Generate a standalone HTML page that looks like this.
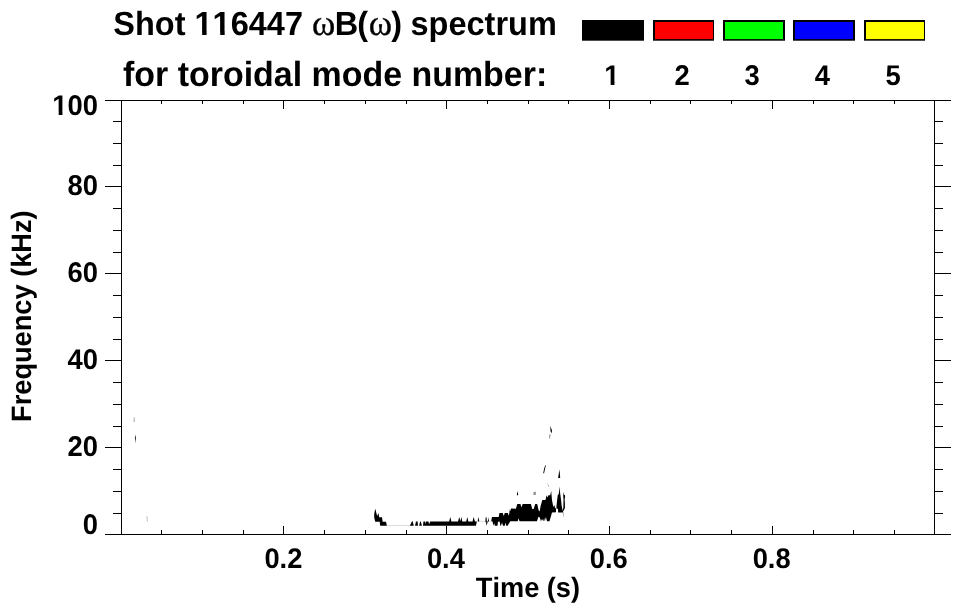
<!DOCTYPE html>
<html lang="en">
<head>
<meta charset="utf-8">
<title>Shot 116447 spectrum</title>
<style>
html,body{margin:0;padding:0;background:#fff;}
body{width:963px;height:615px;overflow:hidden;}
svg{display:block;}
text{font-family:"Liberation Sans",sans-serif;font-weight:bold;fill:#000;text-rendering:geometricPrecision;font-kerning:none;white-space:pre;}
.sym{font-family:"Liberation Serif",serif;font-weight:normal;stroke:#000;stroke-width:0.35;}
.ax{stroke:#000;stroke-width:1;shape-rendering:crispEdges;fill:none;}
</style>
</head>
<body>
<svg width="963" height="615" viewBox="0 0 963 615">
<rect x="0" y="0" width="963" height="615" fill="#fff"/>
<defs><clipPath id="nofoot"><path clip-rule="evenodd" d="M0 0H963V615H0Z M193.90 31H202.03V32H202.14V36.7H193.90Z M206.87 31H213.08V36.7H206.59V32H206.87Z M211.98 31H220.06V32H220.21V36.7H211.98Z M224.90 31H231.15V36.7H224.67V32H224.90Z M51.73 111H58.19V112H58.68V116.3H51.73Z M62.88 111H67.90V116.3H62.43V112H62.88Z M603.73 82H610.60V83H610.68V86.7H603.73Z M614.52 82H619.90V86.7H614.43V83H614.52Z"/></clipPath></defs>
<g id="title" clip-path="url(#nofoot)">
<text transform="translate(113.3 35.2) scale(1 1.03)" font-size="32.5">Shot 116447 <tspan class="sym" font-size="35.4" x="198.60">ω</tspan><tspan x="221.40">B</tspan><tspan x="243.90">(</tspan><tspan class="sym" font-size="35.4" x="255.50">ω</tspan><tspan x="277.90">)</tspan><tspan x="288.16"> spectrum</tspan></text>
<text transform="translate(123.0 86.2) scale(1 1.03)" font-size="33.95">for toroidal mode number:</text>
</g>
<g id="legend" clip-path="url(#nofoot)">
<rect x="582" y="20" width="62" height="20.7" fill="#000"/>
<rect x="653" y="20" width="61" height="20.7" fill="#000"/>
<rect x="655" y="22" width="58" height="17.1" fill="#ff0000"/>
<rect x="723" y="20" width="62" height="20.7" fill="#000"/>
<rect x="725" y="22" width="58" height="17.1" fill="#00ff00"/>
<rect x="793" y="20" width="62" height="20.7" fill="#000"/>
<rect x="795" y="22" width="58" height="17.1" fill="#0000ff"/>
<rect x="864" y="20" width="61" height="20.7" fill="#000"/>
<rect x="866" y="22" width="58" height="17.1" fill="#ffff00"/>
<text transform="translate(611.9 85.2) scale(1 1.04)" font-size="27.4" text-anchor="middle">1</text>
<text transform="translate(682.1 85.2) scale(1 1.04)" font-size="27.4" text-anchor="middle">2</text>
<text transform="translate(752.2 85.2) scale(1 1.04)" font-size="27.4" text-anchor="middle">3</text>
<text transform="translate(822.4 85.2) scale(1 1.04)" font-size="27.4" text-anchor="middle">4</text>
<text transform="translate(893.0 85.2) scale(1 1.04)" font-size="27.4" text-anchor="middle">5</text>
</g>
<g id="axes" class="ax">
<path d="M105 100.5H951 M105 534.5H951 M121.5 100V535 M934.5 100V535 M113 513.5H121 M935 513.5H943 M113 491.5H121 M935 491.5H943 M113 469.5H121 M935 469.5H943 M105 447.5H121 M935 447.5H951 M113 426.5H121 M935 426.5H943 M113 404.5H121 M935 404.5H943 M113 382.5H121 M935 382.5H943 M105 360.5H121 M935 360.5H951 M113 339.5H121 M935 339.5H943 M113 317.5H121 M935 317.5H943 M113 295.5H121 M935 295.5H943 M105 273.5H121 M935 273.5H951 M113 252.5H121 M935 252.5H943 M113 230.5H121 M935 230.5H943 M113 208.5H121 M935 208.5H943 M105 186.5H121 M935 186.5H951 M113 165.5H121 M935 165.5H943 M113 143.5H121 M935 143.5H943 M113 121.5H121 M935 121.5H943 M161.5 530V534 M161.5 101V104 M202.5 530V534 M202.5 101V104 M243.5 530V534 M243.5 101V104 M283.5 526V534 M283.5 101V109 M324.5 530V534 M324.5 101V104 M365.5 530V534 M365.5 101V104 M406.5 530V534 M406.5 101V104 M446.5 526V534 M446.5 101V109 M487.5 530V534 M487.5 101V104 M528.5 530V534 M528.5 101V104 M568.5 530V534 M568.5 101V104 M609.5 526V534 M609.5 101V109 M650.5 530V534 M650.5 101V104 M690.5 530V534 M690.5 101V104 M731.5 530V534 M731.5 101V104 M772.5 526V534 M772.5 101V109 M813.5 530V534 M813.5 101V104 M853.5 530V534 M853.5 101V104 M894.5 530V534 M894.5 101V104"/>
</g>
<g id="ylabels" clip-path="url(#nofoot)">
<text transform="translate(98.0 114.8) scale(1 1.04)" font-size="27.4" text-anchor="end">100</text>
<text transform="translate(98.0 194.85) scale(1 1.04)" font-size="27.4" text-anchor="end">80</text>
<text transform="translate(98.0 281.95) scale(1 1.04)" font-size="27.4" text-anchor="end">60</text>
<text transform="translate(98.0 368.9) scale(1 1.04)" font-size="27.4" text-anchor="end">40</text>
<text transform="translate(98.0 455.9) scale(1 1.04)" font-size="27.4" text-anchor="end">20</text>
<text transform="translate(98.0 533.9) scale(1 1.04)" font-size="27.4" text-anchor="end">0</text>
</g>
<g id="xlabels">
<text transform="translate(283.4 568.4) scale(1 1.04)" font-size="27.3" text-anchor="middle">0.2</text>
<text transform="translate(445.9 568.4) scale(1 1.04)" font-size="27.3" text-anchor="middle">0.4</text>
<text transform="translate(608.8 568.4) scale(1 1.04)" font-size="27.3" text-anchor="middle">0.6</text>
<text transform="translate(771.6 568.4) scale(1 1.04)" font-size="27.3" text-anchor="middle">0.8</text>
</g>
<text id="xtitle" transform="translate(475.8 596.9) scale(1 1.03)" font-size="27.2">Time (s)</text>
<text id="ytitle" transform="translate(31.4 421.9) rotate(-90) scale(1 1.03)" font-size="27.2">Frequency (kHz)</text>
<g id="data" fill="#000">
<polygon points="375.5,509 376.2,512.5 377.2,515.9 378.5,513.1 379.2,517.2 382,517.2 382.7,521.7 386,521.7 386.9,525.8 380.2,525.8 379.7,521.7 375.2,521.7 374.2,517.4 374.2,514 375,510"/>
<rect x="386.9" y="525.05" width="23" height="0.9" fill="#d8d8d8"/>
<polygon points="409.9,525.8 412,521.3 412.6,521.3 413.8,525.8"/>
<polygon points="415,525.8 416,521.6 417.6,521.6 418,525.8"/>
<polygon points="419.1,525.8 420.2,521.4 420.8,521.4 421.9,525.8"/>
<polygon points="423,525.8 423.4,521.5 425.2,521.5 425.6,524.3 426.1,521.5 428.4,521.5 429.2,524.3 430.2,521.6 449.1,521.6 450.3,517 451.4,521.6 458,521.6 459.3,517 460.4,521.3 461.4,517 462.3,521.6 466.2,521.6 467.3,517 468.3,521.6 472.6,521.6 473.5,517 475,521.6 476.9,521.6 475.9,525.8"/>
<polygon points="477.7,521.5 478.3,517 479.4,521.5"/>
<rect x="479.4" y="520.9" width="12" height="0.8" fill="#d8d8d8"/>
<polygon points="485.2,521.3 485.7,517.2 486.6,517.2 487,521 487.9,521.4 486.5,525.7 485.6,521.5" opacity="0.85"/>
<polygon points="487.9,521.5 488.5,517.2 489.1,521.5"/>
<polygon points="491.2,521.3 492,517.1 498.7,517.1 499.4,513 502.7,513 503.7,516 504.8,513 507.9,513 508.6,515.8 509.3,513.6 509.6,508.7 509.9,511.8 511.1,508.5 515.9,508.7 517.3,504 520.5,504 521.3,507.5 522.7,504 530.9,504 532.3,508.9 533.7,508.9 535.2,504 537.2,504 538.7,510.6 539.6,511.6 540.5,506.5 542.3,500 545.5,500 546.6,495.3 547.3,497.5 548.4,495.3 550.2,495.3 551.2,491 552,500.3 553,505.3 554.1,507.5 554.5,504.6 555.3,508.2 556,508.6 556,512.3 552,512.6 549.5,521.2 547,521.2 545.9,517.1 544.8,521.2 544.1,518.2 543.4,521.2 542,519 540.9,521.2 539.8,517.5 538.4,516.8 537,521.2 519.5,521.2 518.6,518.2 517.7,521.2 510.2,521.2 507.7,525.7 506.3,525.7 505.6,522.5 504.8,525.7 503,525.7 502,522.5 501,525.7 500.4,525.7 499.6,521.5 498,521.8 497.5,525.7 494.8,525.7 494.3,523 493.7,525.7 492.3,521.3"/>
<polygon points="559.4,486.5 559.9,491.5 560.4,495 561,499.5 561.7,506 562.4,509.3 563,511 563.5,511 564.3,509.3 564.9,508.3 564.9,503 564.6,499 565.1,497.5 565,495.3 563.8,494.5 563.4,491.5 563.2,495 563.5,500 563.3,508 562.9,509.5 563.2,512.5 558.1,512.5 558,509 556.4,508.6 556.5,506 557.2,499.5 557.8,495 558.8,494 559.1,490"/>
<polygon points="562.9,512.5 563.5,512.5 563.8,516.5 563.3,516.5" opacity="0.5"/>
<polygon points="550.3,426 552,430.5 551.5,433.5 550.5,431"/>
<polygon points="549.3,434.4 550.5,434.4 550,438.6 549.2,438.6" opacity="0.5"/>
<polygon points="545.4,465.1 545.8,465.5 544,473.5 543.2,473 544.3,468"/>
<polygon points="559.5,469.3 560.2,478 558.1,478"/>
<polygon points="547.3,482 548.8,486.8 548.2,486.8" opacity="0.6"/>
<polygon points="533.6,492 535.8,491.8 535.9,494.8 533.4,495" opacity="0.45"/>
<polygon points="517.4,491 518.2,494.5 518,495.3 516.9,495.3 517,494"/>
<polygon points="133.8,417.6 134.6,417.4 134.5,422 133.7,422.1" opacity="0.45"/>
<polygon points="135.3,434.2 135.8,438 135.5,443.4 134.9,438"/>
<polygon points="146.6,516.3 147.3,516.5 147.5,521.6 147,521.4" opacity="0.45"/>
</g>
</svg>
</body>
</html>
